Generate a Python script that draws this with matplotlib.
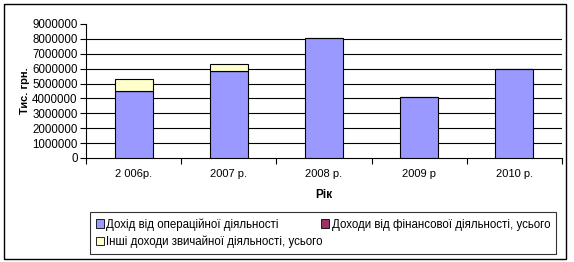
import matplotlib.pyplot as plt
import numpy as np
from matplotlib.patches import Patch, Rectangle

plt.rcParams['font.family'] = ['Liberation Sans', 'DejaVu Sans']

years = ['2 006р.', '2007 р.', '2008 р.', '2009 р', '2010 р.']
operational = [4520000, 5860000, 8050000, 4120000, 6000000]
financial = [0, 0, 0, 0, 0]
other = [760000, 440000, 0, 0, 0]

names = ['Дохід від операційної діяльності',
         'Доходи від фінансової діяльності, усього',
         'Інші доходи звичайної діяльності, усього']
colors = ['#9999FF', '#993366', '#FFFFCC']

W, H = 574, 262
fig = plt.figure(figsize=(W / 100, H / 100), dpi=100)
ax = fig.add_axes([86 / W, 1 - 158 / H, (562 - 86) / W, (158 - 24) / H])

x = np.arange(len(years))
op = np.array(operational)
fin = np.array(financial)
oth = np.array(other)
ax.bar(x, op, 0.4, color=colors[0], edgecolor='black', lw=0.8, zorder=3)
ax.bar(x, fin, 0.4, bottom=op, color=colors[1], edgecolor='black', lw=0.8, zorder=3)
ax.bar(x[oth > 0], oth[oth > 0], 0.4, bottom=(op + fin)[oth > 0],
       color=colors[2], edgecolor='black', lw=0.8, zorder=3)

ax.set_xlim(-0.5, len(years) - 0.5)
ax.set_ylim(0, 9000000)
yt = np.arange(0, 9000001, 1000000)
ax.set_yticks(yt)
ax.set_yticklabels([str(v) for v in yt])
for v in yt[1:-1]:
    ax.axhline(v, color='black', lw=0.8, zorder=1)

ax.set_xticks(x)
ax.set_xticklabels(years)
ax.set_xticks(np.arange(len(years) + 1) - 0.5, minor=True)
ax.tick_params(axis='x', which='major', length=0, pad=8, labelsize=8)
ax.tick_params(axis='x', which='minor', length=4, width=0.8)
ax.tick_params(axis='y', length=4, width=0.8, pad=2, labelsize=8.3)

for s in ['top', 'right']:
    ax.spines[s].set_visible(False)
for s in ['left', 'bottom']:
    ax.spines[s].set_linewidth(0.8)

fig.text(25 / W, 1 - 91 / H, 'Тис. грн.', rotation=90, fontsize=8,
         fontweight='bold', ha='center', va='center')
fig.text(324 / W, 1 - 195 / H, 'Рік', fontsize=8.5, fontweight='bold',
         ha='center', va='center')

handles = [Patch(facecolor=colors[0], edgecolor='black', lw=0.6, label=names[0]),
           Patch(facecolor=colors[2], edgecolor='black', lw=0.6, label=names[2]),
           Patch(facecolor=colors[1], edgecolor='black', lw=0.6, label=names[1])]
leg = fig.legend(handles=handles, ncol=2, loc='lower left',
                 bbox_to_anchor=(90 / W, 1 - 254 / H, (556 - 90) / W, (254 - 214) / H),
                 mode='expand', fontsize=8.3, frameon=True, fancybox=False,
                 edgecolor='black', borderpad=0.5, handlelength=0.7, handleheight=0.7,
                 handletextpad=0.2, labelspacing=0.45, columnspacing=1.0,
                 borderaxespad=0)
leg.get_frame().set_linewidth(0.8)

fig.patches.append(Rectangle((4 / W, 1 - 259 / H), (566 - 4) / W, (259 - 4) / H,
                             transform=fig.transFigure, fill=False,
                             edgecolor='black', lw=1))

fig.savefig('out.png', dpi=100)
